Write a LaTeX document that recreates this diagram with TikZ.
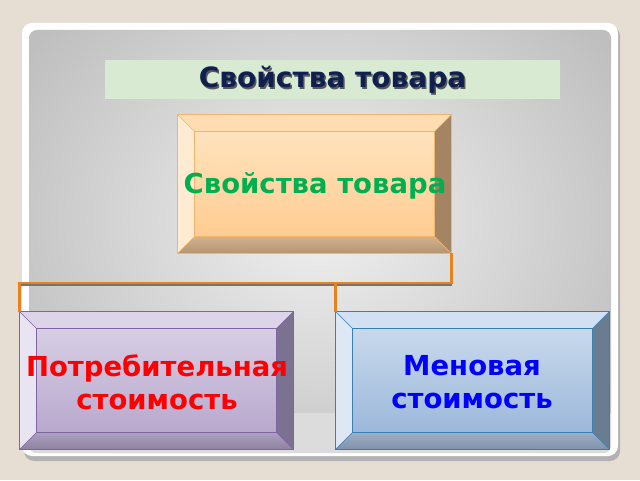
\documentclass[tikz,border=0pt]{standalone}
\usepackage{fontspec}
\setmainfont{DejaVu Sans}
\usetikzlibrary{calc,shadows}
\definecolor{bgbeige}{HTML}{E6DED3}
\definecolor{panelout}{HTML}{BEBEBE}
\definecolor{panelin}{HTML}{F0F0F0}
\definecolor{bandgray}{HTML}{DCDCDC}
\definecolor{titlegreen}{HTML}{D9EAD3}
\definecolor{navy}{HTML}{0F2050}
\definecolor{txtgreen}{HTML}{00B050}
\definecolor{linkorange}{HTML}{E8821E}
% peach
\definecolor{pA}{HTML}{FFE6C4}\definecolor{pB}{HTML}{FFC98A}
\definecolor{pT}{HTML}{FFDDB0}\definecolor{pL}{HTML}{FFEBD2}
\definecolor{pR}{HTML}{A48462}\definecolor{pD}{HTML}{C9A57C}\definecolor{pE}{HTML}{F2B46C}
% purple
\definecolor{uA}{HTML}{DCD3E8}\definecolor{uB}{HTML}{B4A3CA}
\definecolor{uT}{HTML}{DDD4E9}\definecolor{uL}{HTML}{E9E4F1}
\definecolor{uR}{HTML}{7B7190}\definecolor{uD}{HTML}{9D90B2}\definecolor{uE}{HTML}{8064A2}
% blue
\definecolor{bA}{HTML}{CFDEEF}\definecolor{bB}{HTML}{95B3D7}
\definecolor{bT}{HTML}{D2E1F1}\definecolor{bL}{HTML}{DDE8F4}
\definecolor{bR}{HTML}{6A7D90}\definecolor{bD}{HTML}{8CA2BC}\definecolor{bE}{HTML}{3A7FB4}
\tikzset{
  boxbase/.style={draw, line width=0.8pt, minimum width=273pt, minimum height=137pt, inner sep=0pt},
  boxtext/.style={font=\bfseries\fontsize{27.5}{33}\selectfont, align=center, inner sep=0pt},
  link/.style={draw=linkorange, line width=2.4pt},
}
% \bevelfacets{node}{prefix}
\newcommand\bevelfacets[2]{%
  \fill[#2T] (#1.north west) -- (#1.north east) -- ($(#1.north east)+(-17,-17)$) -- ($(#1.north west)+(17,-17)$) -- cycle;
  \fill[#2L] (#1.north west) -- ($(#1.north west)+(17,-17)$) -- ($(#1.south west)+(17,17)$) -- (#1.south west) -- cycle;
  \fill[#2R] (#1.north east) -- (#1.south east) -- ($(#1.south east)+(-17,17)$) -- ($(#1.north east)+(-17,-17)$) -- cycle;
  \shade[top color=#2D!85!white, bottom color=#2D!90!black] (#1.south west) -- ($(#1.south west)+(17,17)$) -- ($(#1.south east)+(-17,17)$) -- (#1.south east) -- cycle;
  \draw[#2E, line width=0.8pt] ($(#1.north west)+(17,-17)$) rectangle ($(#1.south east)+(-17,17)$);
  \draw[#2E, line width=0.5pt] (#1.north west) -- ($(#1.north west)+(17,-17)$) (#1.north east) -- ($(#1.north east)+(-17,-17)$)
     (#1.south west) -- ($(#1.south west)+(17,17)$) (#1.south east) -- ($(#1.south east)+(-17,17)$);
  \draw[#2E, line width=0.8pt] (#1.north west) rectangle (#1.south east);
}
\newcommand\shadowtext[1]{\rlap{\hspace{1.5pt}\raisebox{-1.8pt}{\color{black!65}#1}}#1}
\begin{document}
\begin{tikzpicture}[x=1pt,y=1pt]
\useasboundingbox (0,0) rectangle (640,480);
\fill[bgbeige] (0,0) rectangle (640,480);
% frame
\fill[black!30, rounded corners=10pt] (24,19) rectangle (620,454);
\fill[white, rounded corners=10pt] (22,24) rectangle (618,457);
\begin{scope}
\clip[rounded corners=8pt] (29,27) rectangle (611,450);
\shade[inner color=panelin, outer color=panelout] (-40,-40) rectangle (680,560);
\fill[bandgray] (29,27) rectangle (611,67);
\end{scope}
% title
\node[fill=titlegreen, minimum width=455pt, minimum height=39pt, inner sep=0pt] (title) at (332.5,400.5) {};
\node[font=\bfseries\fontsize{28}{30}\selectfont, text=navy] (titletext) at ($(title.center)+(0,-1)$) {\shadowtext{Свойства товара}};
% boxes
\node[boxbase, draw=pE, top color=pA, bottom color=pB, minimum height=138pt] (top) at (314.5,296) {};
\bevelfacets{top}{p}
\node[boxbase, draw=uE, top color=uA, bottom color=uB] (left) at (156.5,99.5) {};
\bevelfacets{left}{u}
\node[boxbase, draw=bE, top color=bA, bottom color=bB] (right) at (472.5,99.5) {};
\bevelfacets{right}{b}
% connectors
\coordinate (hub) at (top.south east |- 0,197);
\coordinate (hubr) at (right.north west |- 0,197);
\draw[black!55, line width=2pt] (20,195) -- (452,195);
\draw[link] (top.south east) -- (hub) -| (left.north west);
\draw[link] (hubr) -- (right.north west);
% texts
\node[boxtext, text=txtgreen] (toptext) at (315,294) {Свойства товара};
\node[boxtext, text=red] (lefttext) at (157,98) {Потребительная\\стоимость};
\node[boxtext, text=blue] (righttext) at (472,98) {Меновая\\стоимость};
\end{tikzpicture}
\end{document}
